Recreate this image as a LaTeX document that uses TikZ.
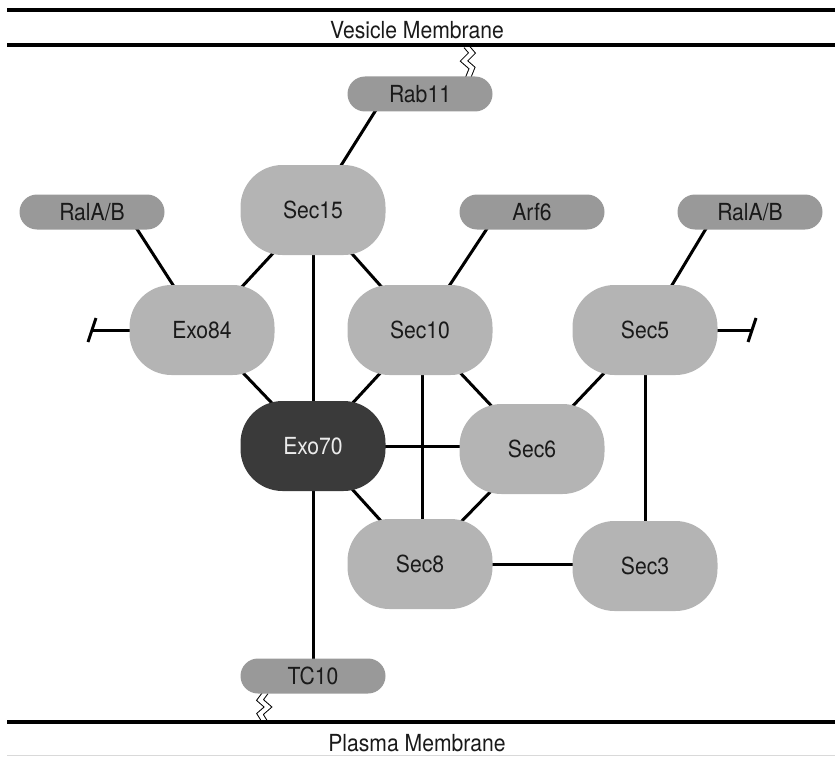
\documentclass[tikz,border=0pt]{standalone}
\usepackage{fontspec}
\setmainfont{TeX Gyre Heros}[FakeStretch=0.9]
\usetikzlibrary{shapes.misc,backgrounds}
\definecolor{bignode}{HTML}{B4B4B4}
\definecolor{smallnode}{HTML}{999999}
\definecolor{darknode}{HTML}{3A3A3A}
\definecolor{txt}{HTML}{1A1A1A}
\begin{document}
\begin{tikzpicture}[x=1pt,y=-1pt,
  bigbox/.style={rectangle,rounded corners=42pt,minimum width=145pt,minimum height=90pt,fill=bignode,text=txt,font=\fontsize{23.5}{27}\selectfont,inner sep=0pt},
  smallbox/.style={rounded rectangle,minimum width=145pt,minimum height=35pt,fill=smallnode,text=txt,font=\fontsize{23.5}{27}\selectfont,inner sep=0pt},
  darkbox/.style={bigbox,fill=darknode,text=white!92!black},
  link/.style={line width=3pt,black},
  membrane/.style={line width=3.8pt,black},
  anchorline/.style={double=white,double distance=4pt,line width=1pt,black},
  tbar/.style={line width=3pt,black},
  label/.style={font=\fontsize{23.5}{27}\selectfont,text=txt,inner sep=0pt}]
\useasboundingbox (0,0) rectangle (835,757);

% membranes
\coordinate (vmL1) at (7,10);
\coordinate (vmR1) at (835,10);
\coordinate (vmL2) at (7,45);
\coordinate (vmR2) at (835,45);
\draw[membrane] (vmL1) -- (vmR1);
\draw[membrane] (vmL2) -- (vmR2);
\node[label] (vesicle) at (417,30) {Vesicle Membrane};
\coordinate (pmL) at (7,722);
\coordinate (pmR) at (835,722);
\draw[membrane] (pmL) -- (pmR);
\coordinate (edgeL) at (7,755.5);
\coordinate (edgeR) at (835,755.5);
\draw[line width=1pt,black!15] (edgeL) -- (edgeR);
\node[label] (plasma) at (417,743) {Plasma Membrane};

% nodes
\node[smallbox] (Rab11) at (420,94) {Rab11};
\node[bigbox] (Sec15) at (313,210) {Sec15};
\node[smallbox] (RalL) at (92,212) {RalA/B};
\node[smallbox] (Arf6) at (532,212) {Arf6};
\node[smallbox] (RalR) at (750,212) {RalA/B};
\node[bigbox] (Exo84) at (202,330) {Exo84};
\node[bigbox] (Sec10) at (420,330) {Sec10};
\node[bigbox] (Sec5) at (645,330) {Sec5};
\node[darkbox] (Exo70) at (313,446) {Exo70};
\node[bigbox] (Sec6) at (532,449) {Sec6};
\node[bigbox] (Sec8) at (420,564) {Sec8};
\node[bigbox] (Sec3) at (645,566) {Sec3};
\node[smallbox] (TC10) at (313,676) {TC10};

% T-bar ends
\coordinate (tl) at (92,330);
\coordinate (tlA) at (88,342);
\coordinate (tlB) at (96,318);
\coordinate (tr) at (752,330);
\coordinate (trA) at (748,342);
\coordinate (trB) at (756,318);

\begin{scope}[on background layer]
\draw[link] ([xshift=-34pt]Rab11.center) -- (Sec15.center);
\draw[link] ([xshift=34pt]RalL.center) -- (Exo84.center);
\draw[link] ([xshift=-34pt]Arf6.center) -- (Sec10.center);
\draw[link] ([xshift=-34pt]RalR.center) -- (Sec5.center);
\draw[link] (Sec15.center) -- (Exo84.center);
\draw[link] (Sec15.center) -- (Exo70.center);
\draw[link] (Sec15.center) -- (Sec10.center);
\draw[link] (Exo84.center) -- (Exo70.center);
\draw[link] (Sec10.center) -- (Exo70.center);
\draw[link] ([xshift=2pt]Sec10.center) -- ([xshift=2pt]Sec8.center);
\draw[link] (Sec10.center) -- (Sec6.center);
\draw[link] (Sec5.center) -- (Sec6.center);
\draw[link] (Sec5.center) -- (Sec3.center);
\draw[link] (Exo70.center) -- (Sec6.center |- Exo70.center);
\draw[link] (Exo70.center) -- (Sec8.center);
\draw[link] (Sec6.center) -- (Sec8.center);
\draw[link] (Sec8.center) -- (Sec3.center |- Sec8.center);
\draw[link] (Exo70.center) -- (TC10.center);
\draw[link] (Exo84.center) -- (tl);
\draw[link] (Sec5.center) -- (tr);
% lipid anchors
\coordinate (za) at (466,46);
\draw[anchorline] (za) -- ++(6,7) -- ++(-8,8) -- ++(8,7) -- ++(-4,10) coordinate (zb);
\coordinate (zc) at (266,692);
\draw[anchorline] (zc) -- ++(-6,8) -- ++(8,7) -- ++(-8,7) -- ++(5,8) coordinate (zd);
\end{scope}
\draw[tbar] (tlA) -- (tlB);
\draw[tbar] (trA) -- (trB);
\end{tikzpicture}
\end{document}
